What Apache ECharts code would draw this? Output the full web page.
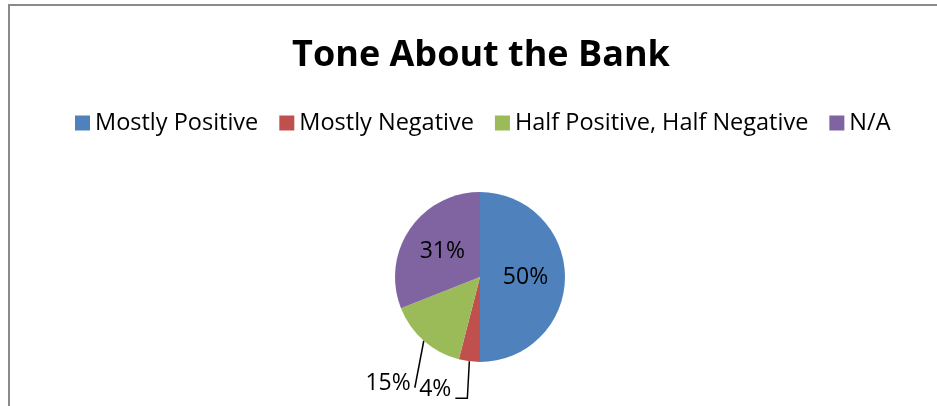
<!DOCTYPE html>
<html>
<head>
<meta charset="utf-8">
<script src="https://cdn.jsdelivr.net/npm/echarts@6/dist/echarts.min.js"></script>
<style>
  html, body { margin: 0; padding: 0; background: #fff; }
  #chart { width: 937px; height: 406px; }
</style>
</head>
<body>
<div id="chart"></div>
<script>
// Tone breakdown of coverage about the bank
const categories = ['Mostly Positive', 'Mostly Negative', 'Half Positive, Half Negative', 'N/A'];
const shares = [50, 4, 15, 31];
// which slices carry their percentage inside the wedge
const insideLabel = [true, false, false, true];

const palette = ['#4F81BD', '#C0504D', '#9BBB59', '#8064A2'];
const FONT = '"Open Sans", Lato, sans-serif';

const chart = echarts.init(document.getElementById('chart'), null, { renderer: 'canvas' });

const pieData = categories.map((name, i) => ({
  name: name,
  value: shares[i],
  label: insideLabel[i] ? { position: 'inside' } : { position: 'outside' },
  labelLine: { show: !insideLabel[i] }
}));

// leader-line offsets (relative to the slice edge anchor) for the outside labels
const leader = {
  1: { bend: [-2, 37], end: [-14, 37], label: [-18, 28] },
  2: { bend: [-9, 47], end: [-9, 47], label: [-13, 43] }
};

chart.setOption({
  backgroundColor: '#ffffff',
  color: palette,
  animation: false,
  graphic: [{
    type: 'rect',
    shape: { x: 9, y: 5, width: 960, height: 460 },
    style: { fill: 'none', stroke: '#8a8a8a', lineWidth: 2 },
    silent: true
  }, {
    type: 'text',
    x: 481,
    y: 56,
    style: {
      text: 'Tone About the Bank',
      align: 'center',
      verticalAlign: 'middle',
      font: 'bold 36px ' + FONT,
      fill: '#000'
    },
    silent: true
  }],
  legend: {
    top: 111,
    left: 75,
    padding: 0,
    itemWidth: 15,
    itemHeight: 15,
    itemGap: 21,
    icon: 'rect',
    data: categories,
    textStyle: { fontFamily: FONT, fontSize: 23.5, color: '#000' }
  },
  series: [{
    type: 'pie',
    center: [480, 277],
    radius: 85,
    startAngle: 90,
    clockwise: true,
    avoidLabelOverlap: false,
    itemStyle: { borderWidth: 0 },
    label: {
      formatter: '{d}%',
      fontFamily: FONT,
      fontSize: 23,
      color: '#000'
    },
    labelLine: {
      lineStyle: { color: '#000', width: 1.5 },
      length: 20,
      length2: 10
    },
    labelLayout: function (params) {
      const off = leader[params.dataIndex];
      if (!off || !params.labelLinePoints) return {};
      const p0 = params.labelLinePoints[0];
      return {
        x: p0[0] + off.label[0],
        y: p0[1] + off.label[1],
        align: 'right',
        verticalAlign: 'middle',
        labelLinePoints: [
          [p0[0], p0[1]],
          [p0[0] + off.bend[0], p0[1] + off.bend[1]],
          [p0[0] + off.end[0], p0[1] + off.end[1]]
        ]
      };
    },
    data: pieData
  }]
});
</script>
</body>
</html>
